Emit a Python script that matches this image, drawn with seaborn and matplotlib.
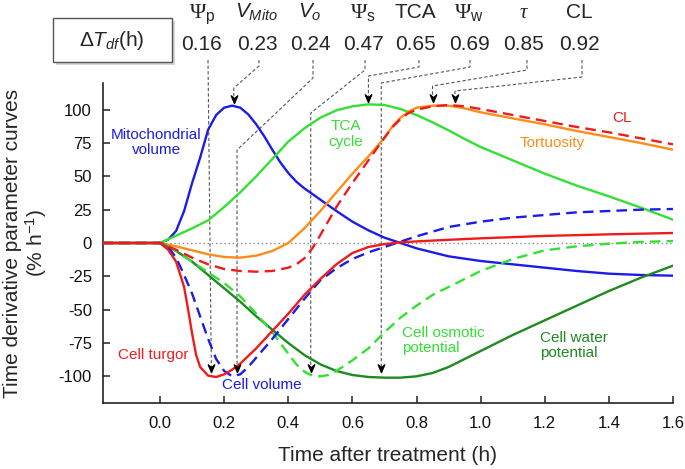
import matplotlib
matplotlib.use("Agg")
import matplotlib.pyplot as plt
import pandas as pd
import seaborn as sns
from matplotlib.lines import Line2D
from matplotlib.path import Path
from matplotlib.patches import Rectangle
from matplotlib.transforms import IdentityTransform

# ------------------------------------------------------------------ data
mito_t = [-0.18, 0, 0.025, 0.05, 0.075, 0.1, 0.125, 0.15, 0.175, 0.2, 0.225, 0.25, 0.275, 0.3, 0.325,
          0.35, 0.375, 0.4, 0.425, 0.45, 0.5, 0.55, 0.6, 0.65, 0.7, 0.75, 0.8, 0.9, 1.0, 1.1, 1.2, 1.3,
          1.4, 1.5, 1.6]
mito_v = [0, 0, 2.5, 9, 24, 45, 64, 85, 96, 101.5, 103, 101.5, 96.5, 89, 80,
          70, 60.5, 52.5, 46, 41, 32.5, 24, 16, 9.5, 4, 0, -4, -10, -13.5, -16, -18.5, -21,
          -23, -24, -24.5]

tca_t = [-0.18, 0, 0.05, 0.1, 0.15, 0.2, 0.25, 0.3, 0.35, 0.4, 0.45, 0.5, 0.55, 0.6, 0.65, 0.7,
         0.75, 0.8, 0.85, 0.9, 0.95, 1.0, 1.1, 1.2, 1.3, 1.4, 1.5, 1.6]
tca_v = [0, 0, 5.5, 11, 17, 27, 38, 50, 63, 76, 86, 94, 99.5, 102.5, 104, 103.5,
         100.5, 96, 90.5, 84.5, 78, 72, 62, 52, 43, 35, 26.5, 17.5]

tort_t = [-0.18, 0, 0.05, 0.1, 0.15, 0.2, 0.25, 0.3, 0.35, 0.4, 0.45, 0.5, 0.55, 0.6, 0.65, 0.7,
          0.725, 0.75, 0.775, 0.8, 0.85, 0.9, 0.95, 1.0, 1.1, 1.2, 1.3, 1.4, 1.5, 1.6]
tort_v = [0, 0, -2.5, -5.5, -8.5, -10.5, -11, -9.5, -6, 0, 11, 24, 38, 52, 65, 79,
          87.5, 94, 98.5, 101.5, 103, 103, 101, 98, 93.5, 89, 84, 79.5, 75, 70]

cl_t = [-0.18, 0, 0.05, 0.1, 0.15, 0.2, 0.25, 0.3, 0.35, 0.4, 0.425, 0.45, 0.475, 0.5, 0.55, 0.6,
        0.65, 0.7, 0.725, 0.75, 0.775, 0.8, 0.85, 0.9, 0.95, 1.0, 1.1, 1.2, 1.3, 1.4, 1.5, 1.6]
cl_v = [0, 0, -5, -11, -16, -19.5, -21, -21.5, -21, -18.5, -16, -11.5, -4, 6, 27, 45,
        62, 79, 87, 93, 97.5, 100, 102.5, 103.5, 102.5, 100.5, 96, 91.5, 87, 83, 78.5, 74]

turgor_t = [-0.18, 0, 0.025, 0.05, 0.075, 0.0875, 0.1, 0.1125, 0.125, 0.15, 0.175, 0.2, 0.225, 0.25,
            0.3, 0.35, 0.4, 0.45, 0.5, 0.55, 0.6, 0.65, 0.7, 0.75, 0.8, 0.9, 1.0, 1.2, 1.4, 1.6]
turgor_v = [0, 0, -5, -14, -33, -50, -68, -84, -93, -99.5, -100.5, -98.5, -95, -90.5,
            -79, -66, -53, -39, -27, -16, -7.5, -3, -0.8, 0.5, 1.2, 2.4, 3.5, 5.3, 6.5, 7.5]

volume_t = [-0.18, 0, 0.025, 0.05, 0.075, 0.1, 0.125, 0.15, 0.175, 0.2, 0.225, 0.25, 0.275, 0.3,
            0.35, 0.4, 0.45, 0.5, 0.55, 0.6, 0.65, 0.7, 0.75, 0.8, 0.9, 1.0, 1.1, 1.2, 1.3, 1.4, 1.5, 1.6]
volume_v = [0, 0, -3, -11, -24, -38, -55, -72, -87, -96, -100, -98.5, -93, -86,
            -72, -57, -42, -28, -19, -12, -7, -3, 1, 5, 12, 16, 19, 21, 23, 24, 25, 25.5]

osm_t = [-0.18, 0, 0.05, 0.1, 0.15, 0.2, 0.25, 0.3, 0.35, 0.4, 0.425, 0.45, 0.475, 0.5, 0.525, 0.55,
         0.6, 0.65, 0.7, 0.75, 0.8, 0.85, 0.9, 0.95, 1.0, 1.1, 1.2, 1.3, 1.4, 1.5, 1.6]
osm_v = [0, 0, -6, -14, -22, -30, -40, -53, -67, -83, -91, -96.5, -99.5, -100, -99, -96,
         -88, -79, -67, -56, -47, -39, -33, -27, -21, -12, -5.5, -2.5, -0.5, 0.8, 1.5]

water_t = [-0.18, 0, 0.05, 0.1, 0.15, 0.2, 0.25, 0.3, 0.35, 0.4, 0.45, 0.5, 0.55, 0.6, 0.65, 0.7,
           0.75, 0.8, 0.85, 0.9, 0.95, 1.0, 1.1, 1.2, 1.3, 1.4, 1.5, 1.6]
water_v = [0, 0, -6, -14, -24, -34, -44, -55, -65, -75, -84, -91, -96, -99, -100.5, -101,
           -101, -100, -97.5, -93, -87, -81, -69, -58, -47, -36, -26, -17]

header_symbols = [r'$\mathbf{\Psi}_{\mathrm{p}}$', r'$V_{Mito}$', r'$V_{o}$', r'$\mathbf{\Psi}_{\mathrm{s}}$',
                  'TCA', r'$\mathbf{\Psi}_{\mathrm{w}}$', r'$\mathcal{\tau}$', 'CL']
header_values = ['0.16', '0.23', '0.24', '0.47', '0.65', '0.69', '0.85', '0.92']
peak_times = [0.16, 0.23, 0.24, 0.47, 0.65, 0.69, 0.85, 0.92]
peak_levels = [-97, 105, -97, -97, 105.5, -97, 105.5, 105.5]

x_ticks = [0.0, 0.2, 0.4, 0.6, 0.8, 1.0, 1.2, 1.4, 1.6]
x_ticklabels = ['0.0', '0.2', '0.4', '0.6', '0.8', '1.0', '1.2', '1.4', '1.6']
y_ticks = [-100, -75, -50, -25, 0, 25, 50, 75, 100]
y_ticklabels = ['-100', '-75', '-50', '-25', '0', '25', '50', '75', '100']

# ------------------------------------------------------------------ style
sns.set_style('ticks')
plt.rcParams['font.family'] = ['Liberation Sans', 'DejaVu Sans']
plt.rcParams['axes.unicode_minus'] = False
plt.rcParams['mathtext.fontset'] = 'custom'
plt.rcParams['mathtext.rm'] = 'Liberation Sans'
plt.rcParams['mathtext.it'] = 'Liberation Sans:italic'
plt.rcParams['mathtext.sf'] = 'Liberation Sans'
plt.rcParams['mathtext.bf'] = 'Liberation Serif'
plt.rcParams['mathtext.cal'] = 'Liberation Serif:italic'

BLUE = '#1c1ce8'
RED = '#ee1c1c'
LGREEN = '#33e033'
DGREEN = '#1f8a1f'
ORANGE = '#ff8c1a'

W, H = 685, 469
fig = plt.figure(figsize=(W / 100, H / 100), dpi=100)
ax = fig.add_axes([103 / W, 66 / H, 570 / W, 320 / H])

series = [
    (mito_t, mito_v, BLUE, False),
    (tca_t, tca_v, LGREEN, False),
    (tort_t, tort_v, ORANGE, False),
    (water_t, water_v, DGREEN, False),
    (osm_t, osm_v, LGREEN, True),
    (volume_t, volume_v, BLUE, True),
    (turgor_t, turgor_v, RED, False),
    (cl_t, cl_v, RED, True),
]
for t, v, c, dashed in series:
    df = pd.DataFrame({'t': t, 'v': v})
    sns.lineplot(data=df, x='t', y='v', color=c, linewidth=1.7, estimator=None,
                 errorbar=None, ax=ax, zorder=3)
    line = ax.lines[-1]
    if dashed:
        line.set_dashes((4.5, 2.6))

ax.axhline(0, color='#888888', lw=1.0, ls=(0, (1, 2)), zorder=1)

ax.set_xlim(-0.178, 1.6)
ax.set_ylim(-120, 120)
ax.set_xticks(x_ticks)
ax.set_xticklabels(x_ticklabels)
ax.set_yticks(y_ticks)
ax.set_yticklabels(y_ticklabels)
ax.set_xlabel('')
ax.set_ylabel('')
for s in ['top', 'right']:
    ax.spines[s].set_visible(False)
for s in ['left', 'bottom']:
    ax.spines[s].set_color('#222222')
    ax.spines[s].set_linewidth(1.2)
ax.tick_params(axis='both', direction='in', length=5, width=1.1, color='#222222',
               labelsize=12, labelcolor='#111111')
ax.tick_params(axis='x', pad=9)
ax.tick_params(axis='y', pad=8)

fig.text(388 / W, 1 - 455 / H, 'Time after treatment (h)', ha='center', va='center', fontsize=15)
fig.text(26 / W, 1 - 243 / H, 'Time derivative parameter curves\n(% h$^{-1}$)', ha='center',
         va='center', rotation=90, fontsize=15, linespacing=1.1, multialignment='center')

# curve labels
lab_kw = dict(fontsize=11)
ax.text(-0.012, 75.3, 'Mitochondrial\nvolume', color=BLUE, ha='center', va='center', linespacing=1.15, **lab_kw)
ax.text(0.58, 81.6, 'TCA\ncycle', color=LGREEN, ha='center', va='center', linespacing=1.15, **lab_kw)
ax.text(1.442, 93.6, 'CL', color=RED, ha='center', va='center', **lab_kw)
ax.text(1.224, 74.9, 'Tortuosity', color=ORANGE, ha='center', va='center', **lab_kw)
ax.text(-0.022, -83.9, 'Cell turgor', color=RED, ha='center', va='center', **lab_kw)
ax.text(0.318, -106.4, 'Cell volume', color=BLUE, ha='center', va='center', **lab_kw)
ax.text(0.754, -73.4, 'Cell osmotic\npotential', color=LGREEN, ha='left', va='center', linespacing=1.1, **lab_kw)
ax.text(1.184, -77.2, 'Cell water\npotential', color=DGREEN, ha='left', va='center', linespacing=1.1, **lab_kw)

# header box
fig.add_artist(Rectangle((56, H - 65), 119, 44, transform=IdentityTransform(),
                         facecolor='#b8b8b8', edgecolor='none', alpha=0.6))
fig.add_artist(Rectangle((53, H - 62), 119, 44, transform=IdentityTransform(),
                         facecolor='white', edgecolor='#555555', lw=1.0))
fig.text(112 / W, 1 - 41 / H, r'$\mathit{\Delta T}_{\mathit{df}}$(h)', ha='center', va='center', fontsize=15)

header_x = [202, 257, 310, 363, 415, 469, 524, 579]
for hx, sym, val in zip(header_x, header_symbols, header_values):
    fs = 16 if 'Psi' in sym else 15
    fig.text(hx / W, 1 - 18 / H, sym, ha='center', va='baseline', fontsize=fs)
    fig.text(hx / W, 1 - 50 / H, val, ha='center', va='baseline', fontsize=15)

# leader lines with arrowheads
starts_x = [208, 259, 313, 365, 419, 470, 527, 582]
bends = [None, (66, 88), (78, 150), (70, 113), (67, 76), (67, 83), (70, 86), (77, 91)]
arrow_marker = Path([(0, 0), (-0.42, 1.0), (0, 0.62), (0.42, 1.0), (0, 0)],
                    [Path.MOVETO, Path.LINETO, Path.LINETO, Path.LINETO, Path.CLOSEPOLY])
for sx, bend, tx, ty in zip(starts_x, bends, peak_times, peak_levels):
    tip = ax.transData.transform((tx, ty))
    pts = [(sx, H - 60)]
    if bend is not None:
        pts += [(sx, H - bend[0]), (tip[0], H - bend[1])]
    pts.append((tip[0], tip[1] + 4))
    xs, ys = zip(*pts)
    ln = Line2D(xs, ys, transform=IdentityTransform(), color='#555555', lw=0.8,
                ls=(0, (3, 2)), clip_on=False, zorder=2)
    ax.add_line(ln)
    ax.plot([tx], [ty], marker=arrow_marker, markersize=11, color='black', lw=0,
            clip_on=False, zorder=5)

fig.savefig('out.png', dpi=100)
